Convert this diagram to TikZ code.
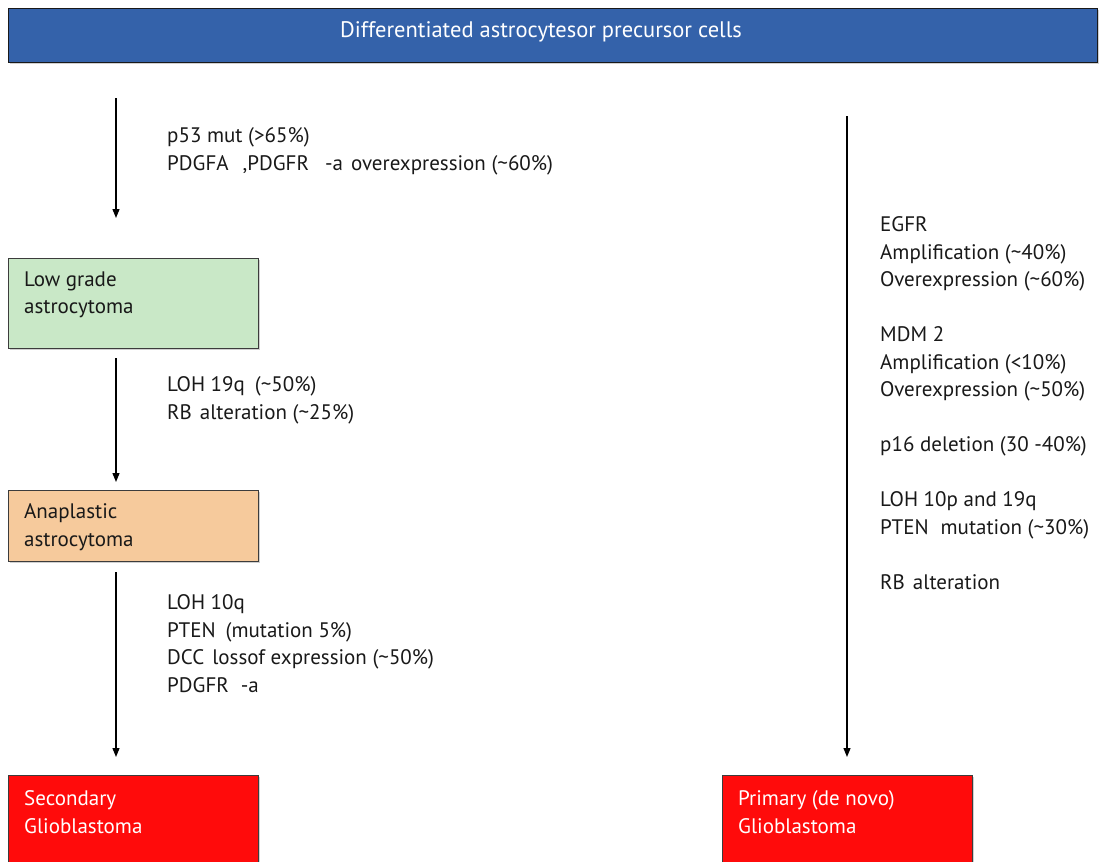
\documentclass[tikz,border=0pt]{standalone}
\usepackage{fontspec}
\setmainfont{PT Sans}
\usetikzlibrary{arrows.meta,shadows}
\definecolor{bannerblue}{RGB}{52,98,170}
\definecolor{lowgreen}{RGB}{201,232,199}
\definecolor{anaorange}{RGB}{246,202,156}
\definecolor{gbred}{RGB}{255,11,11}
\definecolor{edgegray}{RGB}{60,60,60}
\begin{document}
\begin{tikzpicture}[x=1pt,y=-1pt,
  every node/.style={font=\fontsize{21}{27.5}\selectfont},
  txt/.style={anchor=north west, inner sep=0pt, text=black!90, align=left},
  wtxt/.style={txt, text=white},
  box/.style={draw=edgegray, line width=1.4pt, anchor=north west, inner sep=0pt,
    drop shadow={shadow xshift=1.5pt, shadow yshift=-1.5pt, fill=black!30, opacity=0.6}},
  arr/.style={line width=1.3pt, -{Triangle[length=9pt,width=7pt]}}]
\clip (0,0) rectangle (1107,861);
\fill[white] (0,0) rectangle (1107,861);

% banner
\node[box, draw=black!90, fill=bannerblue, minimum width=1089pt, minimum height=54pt] (banner) at (8,8) {};
\node[inner sep=0pt, text=white, font=\fontsize{22.5}{27.5}\selectfont] (bannertxt) at (541,32) {Differentiated astrocytesor precursor cells};

% left column boxes
\node[box, fill=lowgreen, minimum width=250pt, minimum height=90pt] (lowbox) at (8,258) {};
\node[txt] (lowtxt) at (24,271.5) {Low grade\\astrocytoma};

\node[box, fill=anaorange, minimum width=250pt, minimum height=71pt] (anabox) at (8,490) {};
\node[txt] (anatxt) at (24,503.5) {Anaplastic\\astrocytoma};

\node[box, fill=gbred, minimum width=250pt, minimum height=110pt] (secbox) at (8,775) {};
\node[wtxt] (sectxt) at (24,790.5) {Secondary\\Glioblastoma};

% right column box
\node[box, fill=gbred, minimum width=250pt, minimum height=110pt] (primbox) at (722,775) {};
\node[wtxt] (primtxt) at (738,790.5) {Primary (de novo)\\Glioblastoma};

% left arrows
\draw[arr] ([xshift=108pt,yshift=-35pt]banner.south -| lowbox.west) -- ([xshift=108pt,yshift=40pt]lowbox.north west);
\draw[arr] ([xshift=108pt,yshift=-9pt]lowbox.south west) -- ([xshift=108pt,yshift=8pt]anabox.north west);
\draw[arr] ([xshift=108pt,yshift=-10pt]anabox.south west) -- ([xshift=108pt,yshift=18pt]secbox.north west);

% right arrow
\draw[arr] ([yshift=-53pt]banner.south -| 847,0) -- ([yshift=18pt]primbox.north -| 847,0);

% left annotations
\node[txt] (t1) at (167,127.5) {p53 mut (>65\%)\\PDGFA\hspace{14pt},PDGFR\hspace{16pt}-a\hspace{8pt}overexpression (\textasciitilde60\%)};
\node[txt] (t2) at (167,376.5) {LOH 19q\hspace{10pt}(\textasciitilde50\%)\\RB\hspace{8pt}alteration (\textasciitilde25\%)};
\node[txt] (t3) at (167,594.5) {LOH 10q\\PTEN\hspace{10pt}(mutation 5\%)\\DCC\hspace{8pt}lossof expression (\textasciitilde50\%)\\PDGFR\hspace{12pt}-a};

% right annotations
\node[txt] (t4) at (880,216.5) {EGFR\\Amplification (\textasciitilde40\%)\\Overexpression (\textasciitilde60\%)\\[27.5pt]MDM 2\\Amplification (<10\%)\\Overexpression (\textasciitilde50\%)\\[27.5pt]p16 deletion (30 -40\%)\\[27.5pt]LOH 10p and 19q\\PTEN\hspace{12pt}mutation (\textasciitilde30\%)\\[27.5pt]RB\hspace{8pt}alteration};
\end{tikzpicture}
\end{document}
